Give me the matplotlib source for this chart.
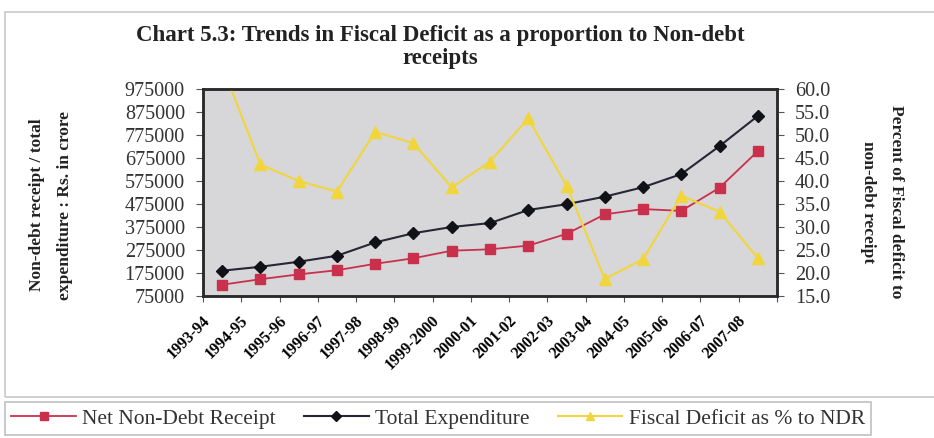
import matplotlib
matplotlib.use('Agg')
import matplotlib.pyplot as plt
import matplotlib.transforms as mtransforms
from matplotlib.patches import Rectangle

years = ['1993-94', '1994-95', '1995-96', '1996-97', '1997-98', '1998-99',
         '1999-2000', '2000-01', '2001-02', '2002-03', '2003-04', '2004-05',
         '2005-06', '2006-07', '2007-08']

# Rs. in crore
net_non_debt_receipt = [124000, 148000, 169000, 187000, 215000, 239000, 272000,
                        278000, 294000, 345000, 430000, 453000, 445000, 546000, 705000]
total_expenditure = [185000, 202000, 224000, 250000, 308000, 348000, 375000,
                     392000, 449000, 474000, 507000, 548000, 605000, 727000, 858000]
# percent
fiscal_deficit_pct = [65.0, 43.6, 40.0, 37.7, 50.7, 48.2, 38.6, 44.2,
                      53.6, 39.0, 18.7, 23.0, 36.8, 33.3, 23.2]

left_ticks = list(range(75000, 975001, 100000))
right_ticks = [15.0, 20.0, 25.0, 30.0, 35.0, 40.0, 45.0, 50.0, 55.0, 60.0]

plt.rcParams['font.family'] = ['Liberation Serif', 'DejaVu Serif']

red = '#c9304c'
navy = '#262638'
yellow = '#f0d63c'
x = list(range(len(years)))

fig = plt.figure(figsize=(9.34, 4.38), dpi=100)
fig.patches.append(Rectangle((5 / 934, 1 - 397 / 438), 1, (397 - 12) / 438,
                             transform=fig.transFigure, fill=False,
                             edgecolor='#c8c8c8', linewidth=1.2))

ax = fig.add_axes([203 / 934, 1 - 296 / 438, (777 - 203) / 934, (296 - 89) / 438])
ax.set_facecolor('#d7d7d9')
ax.plot(x, net_non_debt_receipt, color=red, lw=1.3, marker='s', ms=7,
        mfc=red, mec=red, label='Net Non-Debt Receipt')
ax.plot(x, total_expenditure, color=navy, lw=1.5, marker='D', ms=6.5,
        mfc='#111118', mec='#111118', label='Total Expenditure')
ax.set_xlim(-0.5, len(years) - 0.5)
ax.set_ylim(75000, 975000)
ax.set_yticks(left_ticks)
ax.set_yticklabels([str(v) for v in left_ticks], fontsize=14.5, color='#333333')

ax2 = ax.twinx()
ax2.plot(x, fiscal_deficit_pct, color=yellow, lw=1.5, marker='^', ms=8,
         mfc=yellow, mec=yellow, label='Fiscal Deficit as % to NDR')
ax2.set_ylim(15, 60)
ax2.set_yticks(right_ticks)
ax2.set_yticklabels(['%.1f' % v for v in right_ticks], fontsize=14.5, color='#333333')

# category ticks between categories, labels at centres
ax.set_xticks([i - 0.5 for i in range(len(years) + 1)])
ax.set_xticklabels([])
ax.set_xticks(x, minor=True)
ax.set_xticklabels(years, minor=True, rotation=45, ha='right', va='top',
                   fontsize=11.5, fontweight='bold', rotation_mode='anchor')
ax.tick_params(axis='x', which='minor', length=0, pad=12)
ax.tick_params(axis='x', which='major', length=4, color='#555555')
ax.tick_params(axis='y', length=5, color='#555555', pad=8)
ax2.tick_params(axis='y', length=5, color='#555555', pad=8)
shift = mtransforms.ScaledTranslation(-20 / 100, 0, fig.dpi_scale_trans)
for lab in ax.get_xticklabels(minor=True):
    lab.set_transform(lab.get_transform() + shift)

for a in (ax, ax2):
    for s in a.spines.values():
        s.set_linewidth(1.8)
        s.set_color('#2a2a2a')

fig.text(0.471, 0.893, 'Chart 5.3: Trends in Fiscal Deficit as a proportion to Non-debt\nreceipts',
         ha='center', va='center', fontsize=16.5, fontweight='bold', linespacing=1.15,
         color='#222222')
fig.text(51 / 934, 1 - 205 / 438, 'Non-debt receipt / total\nexpenditure : Rs. in crore',
         rotation=90, ha='center', va='center', fontsize=12.5, fontweight='bold',
         linespacing=2.0, color='#222222')
fig.text(882 / 934, 1 - 202 / 438, 'Percent of Fiscal deficit to\nnon-debt receipt',
         rotation=270, ha='center', va='center', fontsize=12.5, fontweight='bold',
         linespacing=2.0, color='#222222')

handles = ax.get_lines()[:2] + ax2.get_lines()[:1]
leg = fig.legend(handles, [h.get_label() for h in handles], loc='lower left',
                 bbox_to_anchor=(5 / 934, 1 - 435 / 438), ncol=3, fontsize=15.5,
                 frameon=True, fancybox=False, borderaxespad=0, handlelength=3.0,
                 handletextpad=0.3, columnspacing=1.3, borderpad=0.3, markerscale=0.8)
leg.get_frame().set_edgecolor('#b0b0b0')
leg.get_frame().set_linewidth(1.2)
for t in leg.get_texts():
    t.set_color('#333333')

fig.savefig('out.png', dpi=100)
